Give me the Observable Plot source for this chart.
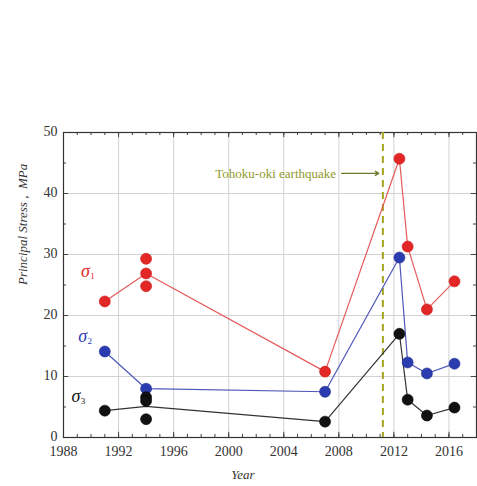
<!DOCTYPE html>
<html>
<head>
<meta charset="utf-8">
<script src="https://cdn.jsdelivr.net/npm/d3@7"></script>
<script src="https://cdn.jsdelivr.net/npm/@observablehq/plot@0.6"></script>
<style>
  html, body { margin: 0; padding: 0; background: #fff; }
</style>
</head>
<body>
<div id="chart"></div>
<script>
// ---- data ----
const pointYears = [1991, 1994, 1994, 1994, 2007, 2012.4, 2013, 2014.4, 2016.4];
const sigma1Points = [22.3, 29.3, 26.9, 24.8, 10.8, 45.7, 31.3, 21.0, 25.6];
const sigma3Points = [4.4, 6.6, 6.0, 3.0, 2.6, 17.0, 6.2, 3.6, 4.9];
const lineYears = [1991, 1994, 2007, 2012.4, 2013, 2014.4, 2016.4];
const sigma1Line = [22.3, 26.9, 10.8, 45.7, 31.3, 21.0, 25.6];
const sigma2Line = [14.1, 8.0, 7.5, 29.5, 12.3, 10.5, 12.1];
const sigma3Line = [4.4, 5.1, 2.6, 17.0, 6.2, 3.6, 4.9];
const quakeYear = 2011.2;
const xMajor = [1988, 1992, 1996, 2000, 2004, 2008, 2012, 2016];
const xMinor = d3.range(1988, 2019, 1);
const yMajor = [0, 10, 20, 30, 40, 50];
const yMinor = d3.range(0, 51, 5);

const red = "#e32626", blue = "#2b3cb0", black = "#111";
const olive = "#8f9a2c";

const pts = (ys, vs) => ys.map((x, i) => ({x, y: vs[i]}));
const s1 = pts(pointYears, sigma1Points);
const s2 = pts(lineYears, sigma2Line);
const s3 = pts(pointYears, sigma3Points);
const l1 = pts(lineYears, sigma1Line);
const l2 = pts(lineYears, sigma2Line);
const l3 = pts(lineYears, sigma3Line);

const serif = "Times New Roman, Liberation Serif, Tinos, Times, serif";
const tickColor = "#444";
const chart = Plot.plot({
  width: 477, height: 486,
  marginLeft: 63, marginRight: 1, marginTop: 132, marginBottom: 49,
  x: {domain: [1988, 2018], axis: null},
  y: {domain: [0, 50], axis: null},
  style: {fontFamily: serif, background: "#fff"},
  marks: [
    Plot.ruleX(xMajor.slice(1), {stroke: "#d2d2d2", strokeWidth: 1}),
    Plot.ruleY(yMajor.slice(1, -1), {stroke: "#d2d2d2", strokeWidth: 1}),
    // ticks (inward)
    Plot.ruleX(xMajor, {y1: 0, y2: 0.85, stroke: tickColor}),
    Plot.ruleX(xMinor, {y1: 0, y2: 0.5, stroke: tickColor}),
    Plot.ruleX(xMajor, {y1: 50, y2: 49.15, stroke: tickColor}),
    Plot.ruleX(xMinor, {y1: 50, y2: 49.5, stroke: tickColor}),
    Plot.ruleY(yMajor, {x1: 1988, x2: 1988.38, stroke: tickColor}),
    Plot.ruleY(yMinor, {x1: 1988, x2: 1988.22, stroke: tickColor}),
    Plot.ruleY(yMajor, {x1: 2018, x2: 2017.62, stroke: tickColor}),
    Plot.ruleY(yMinor, {x1: 2018, x2: 2017.78, stroke: tickColor}),
    Plot.frame({stroke: "#333", strokeWidth: 1.2}),
    // tick labels
    Plot.text(xMajor, {x: d => d, frameAnchor: "bottom", dy: 14, text: d => String(d), fontSize: 14, fontFamily: serif, fill: "#333", lineAnchor: "middle"}),
    Plot.text(yMajor, {y: d => d, frameAnchor: "left", dx: -6, dy: -1, textAnchor: "end", text: d => String(d), fontSize: 14, fontFamily: serif, fill: "#333"}),
    // axis titles
    Plot.text(["Principal Stress ,  MPa"], {frameAnchor: "left", dx: -41, rotate: -90, fontSize: 13, fontFamily: serif, fontStyle: "italic", fill: "#333"}),
    Plot.text(["Year"], {frameAnchor: "bottom", dx: -27, dy: 41, fontSize: 13, fontFamily: serif, fontStyle: "italic", fill: "#333"}),
    // earthquake
    Plot.ruleX([quakeYear], {stroke: "#a3a51e", strokeWidth: 2, strokeDasharray: "7,5"}),
    Plot.text(["Tohoku-oki earthquake"], {x: 2007.8, y: 43.3, textAnchor: "end", fontSize: 13, fontFamily: serif, fill: olive}),
    Plot.arrow([{x1: 2008.2, x2: 2010.9, y: 43.3}], {x1: "x1", x2: "x2", y1: "y", y2: "y", stroke: "#6f7a2a", strokeWidth: 1.2, headLength: 5, bend: 0}),
    // lines
    Plot.line(l1, {x: "x", y: "y", stroke: "#e45a5a", strokeWidth: 1.2}),
    Plot.line(l2, {x: "x", y: "y", stroke: "#4d56b8", strokeWidth: 1.2}),
    Plot.line(l3, {x: "x", y: "y", stroke: "#333", strokeWidth: 1.2}),
    // points
    Plot.dot(s1, {x: "x", y: "y", r: 5.5, fill: red, stroke: "#c81818", strokeWidth: 0.6}),
    Plot.dot(s2, {x: "x", y: "y", r: 5.5, fill: blue, stroke: "#1f2e90", strokeWidth: 0.6}),
    Plot.dot(s3, {x: "x", y: "y", r: 5.5, fill: black, stroke: "#000", strokeWidth: 0.6}),
    // sigma labels
    Plot.text(["σ"], {x: 1989.6, y: 27.3, fontSize: 18, fontFamily: serif, fontStyle: "italic", fill: red}),
    Plot.text(["1"], {x: 1989.6, y: 27.3, dx: 7, dy: 5, fontSize: 9, fontFamily: serif, fill: red}),
    Plot.text(["σ"], {x: 1989.4, y: 16.6, fontSize: 18, fontFamily: serif, fontStyle: "italic", fill: blue}),
    Plot.text(["2"], {x: 1989.4, y: 16.6, dx: 7, dy: 5, fontSize: 9, fontFamily: serif, fill: blue}),
    Plot.text(["σ"], {x: 1988.9, y: 6.8, fontSize: 18, fontFamily: serif, fontStyle: "italic", fill: black}),
    Plot.text(["3"], {x: 1988.9, y: 6.8, dx: 7, dy: 5, fontSize: 9, fontFamily: serif, fill: black})
  ]
});
document.getElementById("chart").appendChild(chart);
</script>
</body>
</html>
